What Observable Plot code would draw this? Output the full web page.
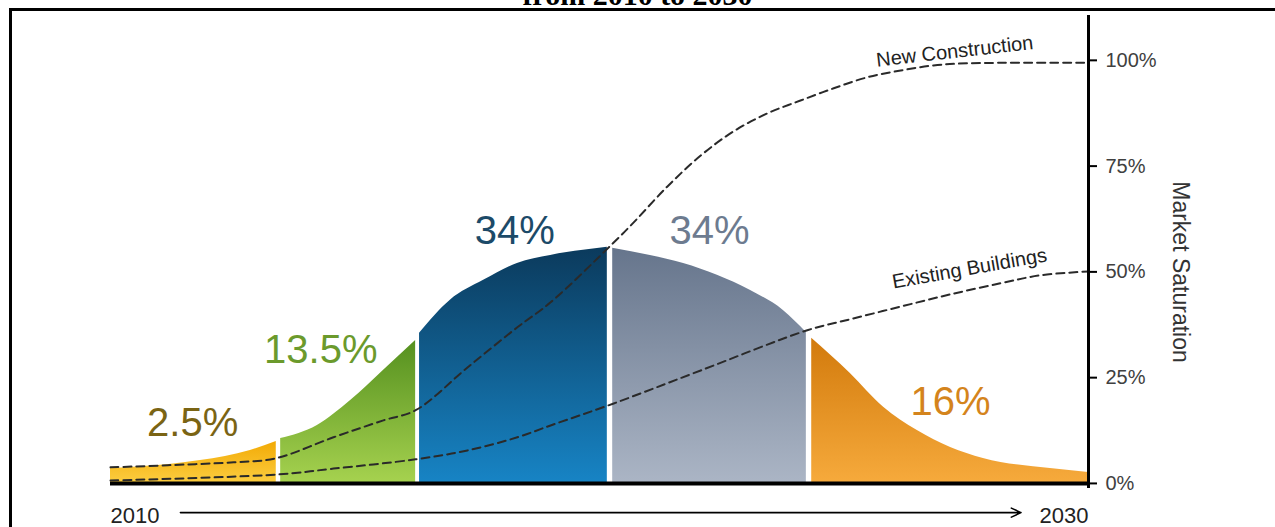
<!DOCTYPE html>
<html><head><meta charset="utf-8">
<script src="https://cdn.jsdelivr.net/npm/d3@7"></script>
<script src="https://cdn.jsdelivr.net/npm/@observablehq/plot@0.6"></script>
<style>
html,body{margin:0;padding:0;background:#fff;}
#wrap{position:relative;width:1275px;height:527px;overflow:hidden;background:#fff;font-family:"Liberation Sans",Arial,sans-serif;}
#frame{position:absolute;left:9px;top:8px;width:1400px;height:700px;border-left:3px solid #000;border-top:3px solid #000;}
#title{position:absolute;left:0;width:1275px;top:-20px;text-align:center;font:bold 30px/30px "Liberation Serif","Times New Roman",serif;color:#000;white-space:nowrap;}
#chart{position:absolute;left:0;top:0;}
</style></head><body>
<div id="wrap"><div id="title">from 2010 to 2030</div><div id="frame"></div><div id="chart"></div></div>
<script>
// ---- data ----
const categories = ["Innovators", "Early Adopters", "Early Majority", "Late Majority", "Laggards"];
const shareLabels = ["2.5%", "13.5%", "34%", "34%", "16%"];
const labelYears = [2011.68, 2014.30, 2018.27, 2022.25, 2027.18];
const labelLevels = [11.3, 28.4, 56.7, 56.7, 16.1];

// [year, height %] along the top of each adoption segment
const innovators    = [[2010.00, 3.5], [2010.47, 3.8], [2011.84, 5.4], [2012.86, 7.8], [2013.39, 9.9]];
const earlyAdopters = [[2013.48, 10.6], [2014.23, 13.7], [2014.91, 19.6], [2015.58, 26.7], [2016.24, 33.8]];
const earlyMajority = [[2016.32, 35.5], [2016.95, 43.3], [2017.63, 48.0], [2018.32, 52.0], [2019.00, 53.9], [2019.67, 55.1], [2020.16, 55.8]];
const lateMajority  = [[2020.27, 55.6], [2021.04, 53.9], [2021.72, 52.0], [2022.41, 49.2], [2023.09, 45.6], [2023.76, 40.9], [2024.23, 35.7]];
const laggards      = [[2024.34, 34.3], [2025.13, 26.0], [2025.81, 18.0], [2026.50, 12.5], [2027.18, 8.5], [2027.85, 5.9], [2029.22, 3.5], [2030.00, 2.6]];

// market saturation S-curves
const newConstruction = [[2010.00, 3.8], [2011.17, 4.3], [2012.52, 5.0], [2013.37, 5.9], [2014.56, 10.9], [2015.58, 14.9], [2016.24, 17.3], [2017.30, 27.4], [2018.32, 36.9], [2019.00, 42.8], [2020.27, 56.7], [2020.70, 61.7], [2021.39, 70.2], [2022.07, 77.5], [2022.74, 83.2], [2023.44, 87.5], [2024.11, 90.5], [2024.79, 93.4], [2025.48, 96.0], [2026.16, 97.6], [2026.83, 98.8], [2027.53, 99.3], [2030.00, 99.4]];
const existingBuildings = [[2010.00, 0.7], [2013.39, 2.1], [2014.56, 3.5], [2016.24, 5.7], [2017.30, 7.8], [2018.32, 10.9], [2019.00, 13.7], [2020.29, 18.9], [2022.07, 26.7], [2024.25, 36.2], [2025.13, 38.8], [2026.16, 41.8], [2027.18, 44.7], [2028.20, 47.3], [2029.02, 49.2], [2030.00, 50.1]];
const seriesNames = ["New Construction", "Existing Buildings"];
const seriesLabelAt = [[2027.28, 100.6], [2027.59, 49.3]];

const yTicks = [0, 25, 50, 75, 100];
const yearTicks = [2010, 2030];
const axisTitle = "Market Saturation";
const timelineArrow = [2011.43, 2028.62];

// ---- styles ----
const gradientStops = [
  ["#f2aa05", "#fccd40"],
  ["#55901f", "#a6d24f"],
  ["#0b3a5c", "#1784c5"],
  ["#66758c", "#abb5c5"],
  ["#d27a0c", "#f6aa3c"]
];
const labelColors = ["#7a6414", "#6b9a2c", "#1c4a68", "#6d7b8f", "#d4841c"];
const labelAngles = [-6.5, -10];

// ---- build ----
const toRows = (pts, cat) => pts.map(([year, pct]) => ({year, pct, cat}));
const segments = [innovators, earlyAdopters, earlyMajority, lateMajority, laggards];
const lineRows = [...toRows(newConstruction, seriesNames[0]), ...toRows(existingBuildings, seriesNames[1])];
const lineLabelRows = seriesNames.map((name, i) => ({name, year: seriesLabelAt[i][0], pct: seriesLabelAt[i][1], angle: labelAngles[i]}));
const font = "Liberation Sans, Arial, Helvetica, sans-serif";
const arrowY = -6.9;

const marks = [];
segments.forEach((pts, i) => {
  marks.push(Plot.areaY(toRows(pts, categories[i]), {x: "year", y: "pct", fill: `url(#seg${i})`, curve: "monotone-x"}));
});
marks.push(Plot.ruleY([0], {stroke: "#000", strokeWidth: 4}));
marks.push(Plot.line(lineRows, {x: "year", y: "pct", z: "cat", stroke: "#2a2a2a", strokeWidth: 2, strokeDasharray: "8,5", curve: "catmull-rom"}));
marks.push(Plot.ruleX([yearTicks[1]], {stroke: "#000", strokeWidth: 3}));
segments.forEach((pts, i) => {
  marks.push(Plot.text([{x: labelYears[i], y: labelLevels[i], t: shareLabels[i]}], {x: "x", y: "y", text: "t", fill: labelColors[i], fontSize: 40, lineAnchor: "bottom", textAnchor: "middle"}));
});
marks.push(Plot.text(lineLabelRows, {x: "year", y: "pct", text: "name", rotate: "angle", fontSize: 20, fill: "#222", lineAnchor: "bottom", textAnchor: "middle"}));
marks.push(Plot.axisY({anchor: "right", ticks: yTicks, tickFormat: d => d + "%", tickSize: 8, tickPadding: 9, fontSize: 20, fill: "#404040", stroke: "#000", strokeWidth: 2, label: null}));
marks.push(Plot.text([axisTitle], {frameAnchor: "right", dx: 92, dy: 20, rotate: 90, textAnchor: "middle", fontSize: 23, fill: "#333"}));
marks.push(Plot.axisX([yearTicks[0]], {anchor: "bottom", tickSize: 0, tickPadding: 19, fontSize: 22, fill: "#222", textAnchor: "start", label: null, tickFormat: d => String(d)}));
marks.push(Plot.axisX([yearTicks[1]], {anchor: "bottom", tickSize: 0, tickPadding: 19, fontSize: 22, fill: "#222", textAnchor: "end", label: null, tickFormat: d => String(d)}));
marks.push(Plot.arrow([{x1: timelineArrow[0], x2: timelineArrow[1], y: arrowY}], {x1: "x1", x2: "x2", y1: "y", y2: "y", stroke: "#000", strokeWidth: 1.6, headLength: 10, headAngle: 50}));

const svg = Plot.plot({
  width: 1275, height: 527,
  marginLeft: 110, marginRight: 187, marginTop: 15, marginBottom: 39,
  x: {domain: [2010, 2030]},
  y: {domain: [-1.2, 110.6]},
  style: {fontFamily: font, background: "transparent", overflow: "visible"},
  marks
});

const ns = "http://www.w3.org/2000/svg";
const defs = document.createElementNS(ns, "defs");
gradientStops.forEach(([top, bottom], i) => {
  const g = document.createElementNS(ns, "linearGradient");
  g.setAttribute("id", "seg" + i);
  g.setAttribute("x1", "0"); g.setAttribute("y1", "0"); g.setAttribute("x2", "0"); g.setAttribute("y2", "1");
  [[0, top], [1, bottom]].forEach(([o, c]) => {
    const s = document.createElementNS(ns, "stop");
    s.setAttribute("offset", o); s.setAttribute("stop-color", c);
    g.appendChild(s);
  });
  defs.appendChild(g);
});
svg.insertBefore(defs, svg.firstChild);
document.getElementById("chart").appendChild(svg);
</script>
</body></html>
